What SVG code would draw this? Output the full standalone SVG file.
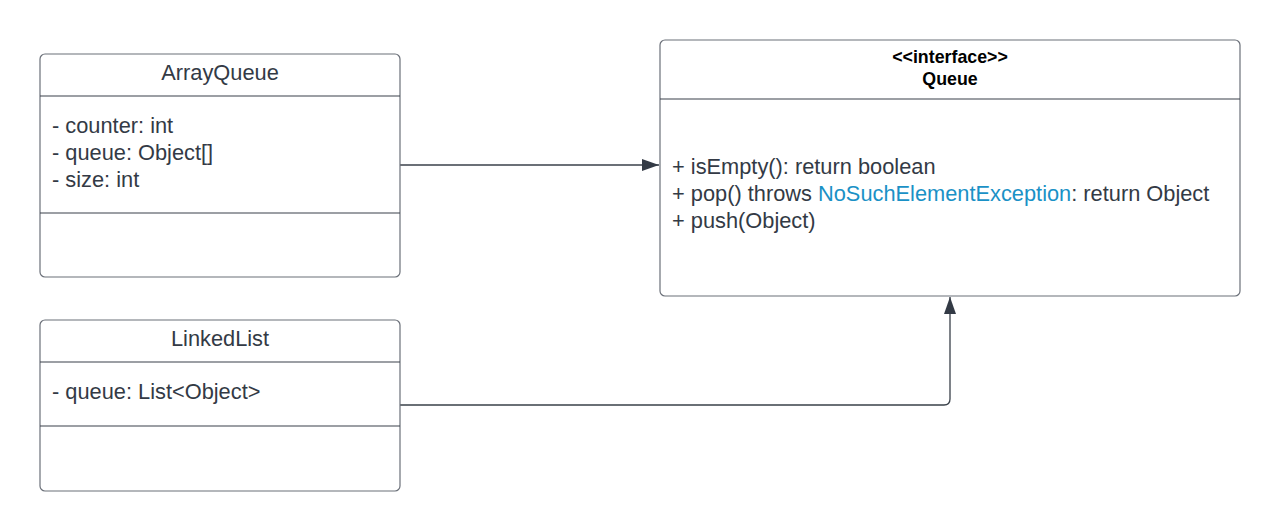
<svg xmlns="http://www.w3.org/2000/svg" width="1280" height="531" viewBox="0 0 1280 531">
<style>
.box{fill:#fff;stroke:#6b7079;stroke-width:1.2}
.div{stroke:#3a414a;stroke-width:1.2}
.t{font-family:"Liberation Sans",Arial,sans-serif;font-size:21.8px;fill:#333a45}
.h{font-family:"Liberation Sans",Arial,sans-serif;font-size:17.8px;font-weight:bold;fill:#000}
.link{fill:#1a91c6}
.conn{fill:none;stroke:#3a414a;stroke-width:1.3}
</style>
<defs>
<marker id="arr" markerWidth="18" markerHeight="12" refX="17" refY="6" orient="auto" markerUnits="userSpaceOnUse">
<path d="M0,0 L17,6 L0,12 Z" fill="#333a45"/>
</marker>
</defs>
<rect width="1280" height="531" fill="#fff"/>
<g id="connectors">
<path class="conn" d="M400,165 H659" marker-end="url(#arr)"/>
<path class="conn" d="M400,405 H944 Q950,405 950,399 V297" marker-end="url(#arr)"/>
</g>
<g id="ArrayQueue">
<rect class="box" x="40" y="54" width="360" height="223" rx="5"/>
<line class="div" x1="40" y1="96" x2="400" y2="96"/>
<line class="div" x1="40" y1="213" x2="400" y2="213"/>
<text class="t" x="220" y="80" text-anchor="middle">ArrayQueue</text>
<text class="t" x="52" y="133">- counter: int</text>
<text class="t" x="52" y="160">- queue: Object[]</text>
<text class="t" x="52" y="187">- size: int</text>
</g>
<g id="LinkedList">
<rect class="box" x="40" y="320" width="360" height="171" rx="5"/>
<line class="div" x1="40" y1="362" x2="400" y2="362"/>
<line class="div" x1="40" y1="426" x2="400" y2="426"/>
<text class="t" x="220" y="346" text-anchor="middle">LinkedList</text>
<text class="t" x="52" y="399">- queue: List&lt;Object&gt;</text>
</g>
<g id="Queue">
<rect class="box" x="660" y="40" width="580" height="256" rx="5"/>
<line class="div" x1="660" y1="99" x2="1240" y2="99"/>
<text class="h" x="950" y="63" text-anchor="middle">&lt;&lt;interface&gt;&gt;</text>
<text class="h" x="950" y="85" text-anchor="middle">Queue</text>
<text class="t" x="672" y="174">+ isEmpty(): return boolean</text>
<text class="t" x="672" y="201">+ pop() throws <tspan class="link">NoSuchElementException</tspan>: return Object</text>
<text class="t" x="672" y="228">+ push(Object)</text>
</g>
</svg>
